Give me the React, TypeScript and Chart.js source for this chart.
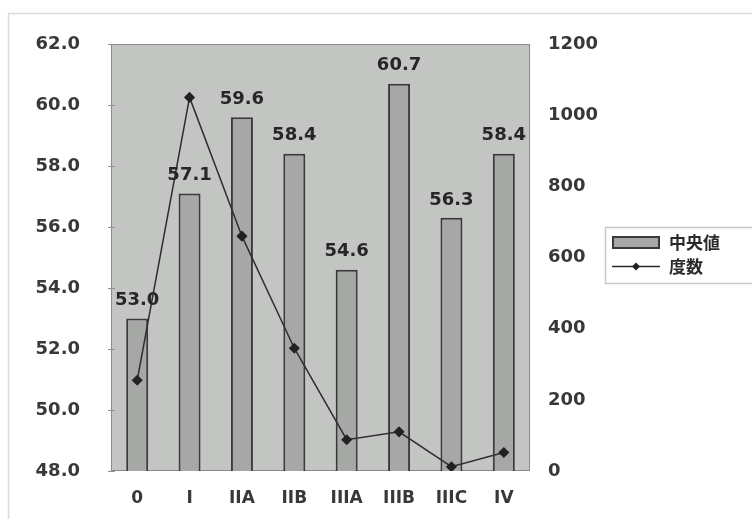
import React, { useEffect, useRef } from "react";
import { Chart, registerables } from "chart.js";

Chart.register(...registerables);

const categories = ["0", "I", "IIA", "IIB", "IIIA", "IIIB", "IIIC", "IV"];
const medianValues = [53.0, 57.1, 59.6, 58.4, 54.6, 60.7, 56.3, 58.4];
const frequencyValues = [255, 1050, 660, 345, 88, 110, 12, 52];
const leftTicks = [48, 50, 52, 54, 56, 58, 60, 62];
const rightTicks = [0, 200, 400, 600, 800, 1000, 1200];
const seriesNames = ["中央値", "度数"];

const FONT = "'DejaVu Sans', 'Noto Sans CJK JP', sans-serif";
const TEXT = "#383838";
const BAR_FILL = "#a6a8a6";
const BAR_BORDER = "#3a3a3a";
const PLOT_BG = "#c3c5c3";

const plotBg = {
  id: "plotBg",
  beforeDatasetsDraw(chart: any) {
    const { ctx, chartArea: a } = chart;
    ctx.save();
    ctx.fillStyle = PLOT_BG;
    ctx.fillRect(a.left, a.top, a.right - a.left, a.bottom - a.top);
    ctx.strokeStyle = "#8a8a8a";
    ctx.lineWidth = 1;
    ctx.strokeRect(a.left + 0.5, a.top + 0.5, a.right - a.left - 1, a.bottom - a.top - 1);
    const y = chart.scales.y;
    ctx.strokeStyle = "#8f8f8f";
    leftTicks.forEach((t) => {
      const py = Math.round(y.getPixelForValue(t)) + 0.5;
      ctx.beginPath();
      ctx.moveTo(a.left - 3, py);
      ctx.lineTo(a.left + 4, py);
      ctx.stroke();
    });
    ctx.restore();
  },
};

const valueLabels = {
  id: "valueLabels",
  afterDatasetsDraw(chart: any) {
    const { ctx } = chart;
    const meta = chart.getDatasetMeta(0);
    ctx.save();
    ctx.font = `bold 18px ${FONT}`;
    ctx.fillStyle = "#262626";
    ctx.textAlign = "center";
    ctx.textBaseline = "bottom";
    meta.data.forEach((el: any, i: number) => {
      ctx.fillText(medianValues[i].toFixed(1), el.x, el.y - 9);
    });
    ctx.restore();
  },
};

const customLegend = {
  id: "customLegend",
  afterDraw(chart: any) {
    const { ctx } = chart;
    ctx.save();
    const bx = 605, by = 227, bw = 150, bh = 56;
    ctx.fillStyle = "#ffffff";
    ctx.fillRect(bx, by, bw, bh);
    ctx.strokeStyle = "#c8c8c8";
    ctx.lineWidth = 1.5;
    ctx.strokeRect(bx + 0.5, by + 0.5, bw, bh);
    ctx.fillStyle = BAR_FILL;
    ctx.fillRect(613, 237, 46, 11);
    ctx.strokeStyle = BAR_BORDER;
    ctx.lineWidth = 2;
    ctx.strokeRect(613, 237, 46, 11);
    ctx.strokeStyle = "#2a2a2a";
    ctx.lineWidth = 1.5;
    ctx.beginPath();
    ctx.moveTo(612, 266.5);
    ctx.lineTo(660, 266.5);
    ctx.stroke();
    ctx.fillStyle = "#222222";
    ctx.beginPath();
    ctx.moveTo(636, 262.5);
    ctx.lineTo(640, 266.5);
    ctx.lineTo(636, 270.5);
    ctx.lineTo(632, 266.5);
    ctx.closePath();
    ctx.fill();
    ctx.font = `bold 17px 'Noto Sans CJK JP', sans-serif`;
    ctx.fillStyle = "#2a2a2a";
    ctx.textAlign = "left";
    ctx.textBaseline = "middle";
    ctx.fillText(seriesNames[0], 669, 243);
    ctx.fillText(seriesNames[1], 669, 267);
    ctx.restore();
  },
};

const frame = {
  id: "frame",
  beforeDraw(chart: any) {
    const { ctx } = chart;
    ctx.save();
    ctx.fillStyle = "#ffffff";
    ctx.fillRect(0, 0, chart.width, chart.height);
    ctx.strokeStyle = "#d8dcdc";
    ctx.lineWidth = 1.5;
    ctx.strokeRect(8.5, 13.5, 760, 520);
    ctx.restore();
  },
};

export default function App() {
  const ref = useRef<HTMLCanvasElement | null>(null);
  useEffect(() => {
    if (!ref.current) return;
    const chart = new Chart(ref.current, {
      type: "bar",
      data: {
        labels: categories,
        datasets: [
          {
            type: "bar",
            label: seriesNames[0],
            data: medianValues,
            backgroundColor: BAR_FILL,
            borderColor: BAR_BORDER,
            borderWidth: 2,
            borderSkipped: false,
            barPercentage: 0.42,
            categoryPercentage: 1,
            yAxisID: "y",
            order: 2,
          },
          {
            type: "line",
            label: seriesNames[1],
            data: frequencyValues,
            borderColor: "#2e2e2e",
            borderWidth: 1.5,
            pointStyle: "rectRot",
            pointRadius: 4.5,
            pointBackgroundColor: "#222222",
            pointBorderColor: "#222222",
            tension: 0,
            yAxisID: "y1",
            order: 1,
          } as any,
        ],
      },
      options: {
        animation: false,
        responsive: false,
        maintainAspectRatio: false,
        layout: { padding: { top: 44, left: 0, right: 152, bottom: 0 } },
        plugins: {
          legend: { display: false },
          tooltip: { enabled: false },
        },
        scales: {
          x: {
            offset: true,
            grid: { display: false, drawTicks: false },
            border: { display: false },
            ticks: {
              color: TEXT,
              font: { family: FONT, size: 17, weight: "bold" },
              padding: 17,
              maxRotation: 0,
            },
            afterFit(s: any) {
              s.height = 48;
            },
          },
          y: {
            position: "left",
            min: 48,
            max: 62,
            afterBuildTicks(s: any) {
              s.ticks = leftTicks.map((v) => ({ value: v }));
            },
            grid: { display: false, drawTicks: false },
            border: { display: false },
            ticks: {
              color: TEXT,
              font: { family: FONT, size: 18, weight: "bold" },
              padding: 31,
              callback: (v: any) => Number(v).toFixed(1),
            },
            afterFit(s: any) {
              s.width = 111;
            },
          },
          y1: {
            position: "right",
            min: 0,
            max: 1200,
            afterBuildTicks(s: any) {
              s.ticks = rightTicks.map((v) => ({ value: v }));
            },
            grid: { display: false, drawTicks: false },
            border: { display: false },
            ticks: {
              color: TEXT,
              font: { family: FONT, size: 18, weight: "bold" },
              padding: 18,
              callback: (v: any) => String(v),
            },
            afterFit(s: any) {
              s.width = 70;
            },
          },
        },
      },
      plugins: [frame, plotBg, valueLabels, customLegend],
    });
    return () => chart.destroy();
  }, []);
  return (
    <div style={{ position: "fixed", left: 0, top: 0, width: 752, height: 519 }}>
      <canvas ref={ref} width={752} height={519} style={{ width: 752, height: 519 }} />
    </div>
  );
}
